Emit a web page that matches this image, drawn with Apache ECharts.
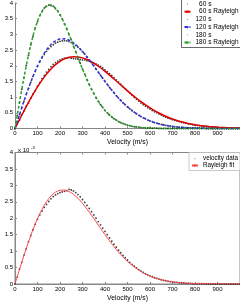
<!DOCTYPE html>
<html><head><meta charset="utf-8">
<script src="https://cdn.jsdelivr.net/npm/echarts@6/dist/echarts.min.js"></script>
<style>html,body{margin:0;padding:0;background:#fff}#c{width:240px;height:306px}</style>
</head><body><div id="c"></div>
<script>
// sampling grids (m/s)
const dataVelocity = Array.from({length:101},(_,i)=>i*10);
const fitVelocity = Array.from({length:51},(_,i)=>i*20);

// top panel: measured distributions (x 10^-3)
const data60 = [0,0.15,0.27,0.44,0.56,0.71,0.82,0.97,1.10,1.20,
1.35,1.46,1.59,1.69,1.80,1.88,1.97,2.04,2.10,2.15,
2.19,2.22,2.24,2.25,2.26,2.24,2.23,2.22,2.21,2.20,
2.19,2.18,2.16,2.14,2.12,2.09,2.06,2.02,1.98,1.93,
1.87,1.81,1.75,1.69,1.62,1.55,1.48,1.41,1.34,1.27,
1.20,1.13,1.06,0.99,0.93,0.87,0.81,0.76,0.71,0.66,
0.62,0.57,0.53,0.50,0.46,0.43,0.39,0.36,0.33,0.31,
0.28,0.26,0.24,0.22,0.20,0.18,0.17,0.15,0.14,0.12,
0.11,0.10,0.09,0.08,0.07,0.07,0.06,0.05,0.05,0.04,
0.04,0.03,0.03,0.03,0.02,0.02,0.02,0.02,0.01,0.01,
0.01];
const data120 = [0,0.23,0.44,0.67,0.87,1.09,1.28,1.47,1.66,1.82,
1.98,2.12,2.25,2.36,2.46,2.54,2.61,2.67,2.72,2.75,
2.78,2.79,2.80,2.79,2.77,2.74,2.70,2.65,2.59,2.53,
2.45,2.37,2.28,2.19,2.10,2.00,1.90,1.80,1.70,1.60,
1.50,1.41,1.31,1.22,1.14,1.05,0.97,0.90,0.82,0.76,
0.69,0.63,0.57,0.52,0.47,0.42,0.38,0.34,0.31,0.27,
0.24,0.22,0.19,0.17,0.15,0.13,0.12,0.10,0.09,0.08,
0.07,0.06,0.05,0.04,0.04,0.03,0.03,0.02,0.02,0.02,
0.01,0.01,0.01,0.01,0.01,0,0,0,0,0,
0,0,0,0,0,0,0,0,0,0,
0];
const data180 = [0,0.42,0.83,1.25,1.62,2.01,2.33,2.67,2.94,3.21,
3.40,3.60,3.72,3.84,3.89,3.93,3.92,3.90,3.82,3.75,
3.62,3.50,3.33,3.18,2.99,2.83,2.62,2.45,2.25,2.08,
1.89,1.73,1.55,1.41,1.25,1.12,0.98,0.87,0.76,0.67,
0.57,0.50,0.43,0.37,0.31,0.27,0.22,0.19,0.16,0.13,
0.11,0.09,0.07,0.06,0.05,0.04,0.03,0.03,0.02,0.02,
0.01,0.01,0.01,0.01,0,0,0,0,0,0,
0,0,0,0,0,0,0,0,0,0,
0,0,0,0,0,0,0,0,0,0,
0,0,0,0,0,0,0,0,0,0,
0];
// top panel: Rayleigh fits
const fit60 = [0,0.284,0.563,0.833,1.089,1.326,1.542,1.734,1.899,2.035,2.142,2.220,2.268,2.288,2.282,2.251,2.198,2.126,2.037,1.936,1.823,1.703,1.579,1.452,1.325,1.201,1.080,0.964,0.855,0.753,0.658,0.572,0.493,0.423,0.360,0.304,0.256,0.214,0.177,0.146,0.120,0.097,0.079,0.063,0.051,0.040,0.032,0.025,0.019,0.015,0.012];
const fit120 = [0,0.443,0.874,1.283,1.658,1.991,2.275,2.505,2.678,2.793,2.852,2.857,2.814,2.727,2.604,2.453,2.279,2.091,1.894,1.696,1.501,1.313,1.136,0.972,0.823,0.689,0.571,0.469,0.380,0.306,0.243,0.192,0.150,0.115,0.088,0.067,0.050,0.037,0.027,0.020,0.014,0.010,0.007,0.005,0.003,0.002,0.002,0.001,0.001,0,0];
const fit180 = [0,0.836,1.631,2.345,2.948,3.415,3.735,3.905,3.933,3.833,3.629,3.344,3.005,2.636,2.261,1.897,1.558,1.253,0.988,0.763,0.578,0.430,0.313,0.224,0.157,0.108,0.073,0.049,0.032,0.020,0.013,0.008,0.005,0.003,0.002,0.001,0,0,0,0,0,0,0,0,0,0,0,0,0,0,0];

// bottom panel
const dataBottom = [0,0.21,0.45,0.66,0.88,1.07,1.29,1.47,1.65,1.82,
1.97,2.10,2.22,2.33,2.42,2.51,2.59,2.66,2.71,2.75,
2.78,2.80,2.82,2.84,2.88,2.86,2.83,2.78,2.72,2.65,
2.57,2.48,2.39,2.30,2.20,2.10,2.00,1.90,1.80,1.70,
1.60,1.50,1.40,1.30,1.21,1.12,1.03,0.95,0.87,0.80,
0.73,0.66,0.60,0.54,0.49,0.44,0.39,0.35,0.31,0.28,
0.25,0.22,0.19,0.17,0.15,0.13,0.11,0.10,0.08,0.07,
0.06,0.05,0.05,0.04,0.03,0.03,0.02,0.02,0.02,0.01,
0.01,0.01,0.01,0.01,0.01,0,0,0,0,0,
0,0,0,0,0,0,0,0,0,0,
0];
const fitBottom = [0,0.443,0.874,1.283,1.658,1.991,2.275,2.505,2.678,2.793,2.852,2.857,2.814,2.727,2.604,2.453,2.279,2.091,1.894,1.696,1.501,1.313,1.136,0.972,0.823,0.689,0.571,0.469,0.380,0.306,0.243,0.192,0.150,0.115,0.088,0.067,0.050,0.037,0.027,0.020,0.014,0.010,0.007,0.005,0.003,0.002,0.002,0.001,0.001,0,0];

const topLegendNames = ['  60 s','  60 s Rayleigh fit','120 s','120 s Rayleigh fit','180 s','180 s Rayleigh fit'];
const bottomLegendNames = ['velocity data','Rayleigh fit'];
const xName = 'Velocity (m/s)';
const expText = 'x 10';
const expSup = '-3';

const FONT = '"Liberation Sans", Arial, Helvetica, sans-serif';
const DOT = 'path://M0,0M4,4M1.1,2a0.9,0.9 0 1,0 1.8,0a0.9,0.9 0 1,0 -1.8,0z';
function pairs(xs, ys){ return xs.map((x,i)=>[x, ys[i]]); }

function xAxisBase(gi, gap){
  return { type:'value', gridIndex:gi, min:0, max:1000, interval:100,
    name:xName, nameLocation:'middle', nameGap:gap,
    nameTextStyle:{fontSize:6.8,color:'#000',fontFamily:FONT},
    axisLine:{lineStyle:{color:'#888',width:1}},
    axisTick:{inside:true,length:2,lineStyle:{color:'#888'}},
    axisLabel:{fontSize:6,color:'#000',margin:2,fontFamily:FONT,showMaxLabel:false},
    splitLine:{show:false} };
}
function yAxisBase(gi){
  return { type:'value', gridIndex:gi, min:0, max:4, interval:0.5,
    axisLine:{show:true,lineStyle:{color:'#888',width:1}},
    axisTick:{show:true,inside:true,length:2,lineStyle:{color:'#888'}},
    axisLabel:{fontSize:6,color:'#000',margin:2,fontFamily:FONT},
    splitLine:{show:false} };
}

const chart = echarts.init(document.getElementById('c'), null, {renderer:'canvas', devicePixelRatio:1});
const scatterStyle = {type:'scatter', symbolSize:1.8, itemStyle:{color:'#111'}, silent:true};
const option = {
  animation:false,
  backgroundColor:'#fff',
  grid:[
    {left:15, top:2.5, width:228, height:126},
    {left:15, top:152.5, width:228, height:131.5, show:true, borderColor:'#888', borderWidth:1}
  ],
  xAxis:[
    xAxisBase(0, 9.8),
    xAxisBase(1, 10.3),
    { type:'value', gridIndex:1, min:0, max:1000, interval:100, position:'top',
      axisLine:{show:true,lineStyle:{color:'#888'}}, axisTick:{inside:true,length:2,lineStyle:{color:'#888'}},
      axisLabel:{show:false}, splitLine:{show:false} }
  ],
  yAxis:[ yAxisBase(0), yAxisBase(1) ],
  legend:[
    { orient:'vertical', left:181.5, top:-1, padding:[1.5,2,1.5,2], itemWidth:6, itemHeight:3, itemGap:0.7,
      backgroundColor:'#fff', borderColor:'#444', borderWidth:0.8, selectedMode:false,
      textStyle:{fontSize:6.5,color:'#000',fontFamily:FONT,lineHeight:7},
      data:[
        {name:topLegendNames[0], icon:DOT, itemStyle:{color:'#888'}},
        topLegendNames[1],
        {name:topLegendNames[2], icon:DOT, itemStyle:{color:'#888'}},
        topLegendNames[3],
        {name:topLegendNames[4], icon:DOT, itemStyle:{color:'#888'}},
        topLegendNames[5]
      ] },
    { orient:'vertical', left:189, top:152.5, padding:[2.5,2,1.5,2], itemWidth:6, itemHeight:3, itemGap:0,
      backgroundColor:'#fff', borderColor:'#bbb', borderWidth:0.8, selectedMode:false,
      textStyle:{fontSize:6.3,color:'#000',fontFamily:FONT,lineHeight:7},
      data:[ {name:bottomLegendNames[0], icon:DOT, itemStyle:{color:'#888'}}, bottomLegendNames[1] ] }
  ],
  graphic:[
    {type:'text', left:18, top:147.5, style:{text:expText, fontSize:6, fill:'#000', fontFamily:FONT}},
    {type:'text', left:31, top:145.5, style:{text:expSup, fontSize:4.2, fill:'#000', fontFamily:FONT}}
  ],
  series:[
    Object.assign({name:topLegendNames[0], xAxisIndex:0, yAxisIndex:0, data:pairs(dataVelocity,data60)}, scatterStyle),
    Object.assign({name:topLegendNames[2], xAxisIndex:0, yAxisIndex:0, data:pairs(dataVelocity,data120)}, scatterStyle),
    Object.assign({name:topLegendNames[4], xAxisIndex:0, yAxisIndex:0, data:pairs(dataVelocity,data180)}, scatterStyle),
    {name:topLegendNames[1], type:'line', xAxisIndex:0, yAxisIndex:0, symbol:'none', smooth:0.3,
      lineStyle:{color:'#e00000', width:1.5}, itemStyle:{color:'#e00000'}, data:pairs(fitVelocity,fit60)},
    {name:topLegendNames[3], type:'line', xAxisIndex:0, yAxisIndex:0, symbol:'none', smooth:0.3,
      lineStyle:{color:'#2f2fe0', width:1.5, type:[3,2]}, itemStyle:{color:'#2f2fe0'}, data:pairs(fitVelocity,fit120)},
    {name:topLegendNames[5], type:'line', xAxisIndex:0, yAxisIndex:0, symbol:'none', smooth:0.3,
      lineStyle:{color:'#22a022', width:1.5, type:[3,2]}, itemStyle:{color:'#22a022'}, data:pairs(fitVelocity,fit180)},
    Object.assign({name:bottomLegendNames[0], xAxisIndex:1, yAxisIndex:1, data:pairs(dataVelocity,dataBottom)}, scatterStyle),
    {name:bottomLegendNames[1], type:'line', xAxisIndex:1, yAxisIndex:1, symbol:'none', smooth:0.3,
      lineStyle:{color:'#ff4848', width:1}, itemStyle:{color:'#ff4848'}, data:pairs(fitVelocity,fitBottom)}
  ]
};
chart.setOption(option);
</script></body></html>
